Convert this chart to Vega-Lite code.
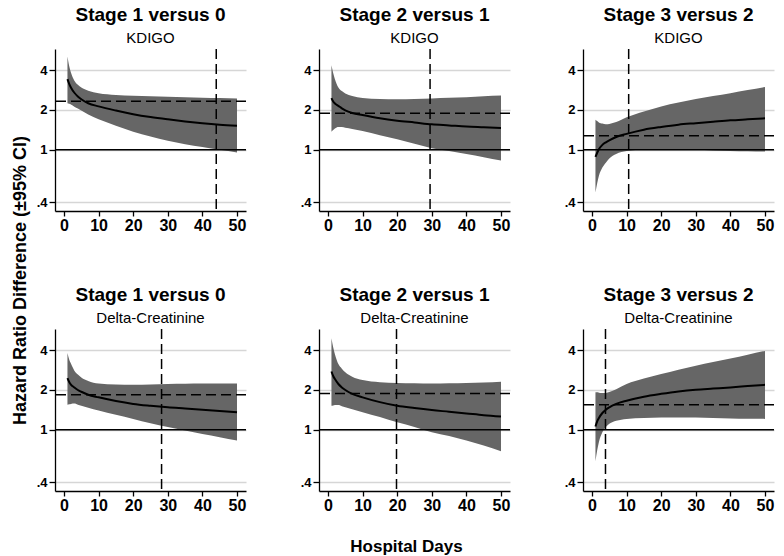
{
  "$schema": "https://vega.github.io/schema/vega-lite/v6.json",
  "background": "white",
  "padding": {"left": 10, "top": 6, "right": 5, "bottom": 2},
  "datasets": {
    "curves": [
      {"p":"K1","d":1,"est":3.42,"lo":2.25,"hi":5.07},
      {"p":"K1","d":1.5,"est":3.15,"lo":2.23,"hi":4.30},
      {"p":"K1","d":2,"est":2.96,"lo":2.20,"hi":3.84},
      {"p":"K1","d":3,"est":2.70,"lo":2.12,"hi":3.33},
      {"p":"K1","d":4,"est":2.53,"lo":2.05,"hi":3.10},
      {"p":"K1","d":5,"est":2.41,"lo":1.98,"hi":2.96},
      {"p":"K1","d":7,"est":2.25,"lo":1.85,"hi":2.80},
      {"p":"K1","d":10,"est":2.13,"lo":1.70,"hi":2.68},
      {"p":"K1","d":15,"est":1.98,"lo":1.52,"hi":2.60},
      {"p":"K1","d":20,"est":1.86,"lo":1.37,"hi":2.56},
      {"p":"K1","d":25,"est":1.77,"lo":1.26,"hi":2.54},
      {"p":"K1","d":30,"est":1.70,"lo":1.17,"hi":2.52},
      {"p":"K1","d":35,"est":1.64,"lo":1.10,"hi":2.50},
      {"p":"K1","d":40,"est":1.59,"lo":1.05,"hi":2.48},
      {"p":"K1","d":45,"est":1.55,"lo":1.00,"hi":2.46},
      {"p":"K1","d":50,"est":1.52,"lo":0.955,"hi":2.44},
      {"p":"K2","d":1,"est":2.46,"lo":1.37,"hi":4.36},
      {"p":"K2","d":1.5,"est":2.32,"lo":1.41,"hi":3.80},
      {"p":"K2","d":2,"est":2.24,"lo":1.45,"hi":3.42},
      {"p":"K2","d":3,"est":2.15,"lo":1.49,"hi":2.96},
      {"p":"K2","d":4,"est":2.06,"lo":1.49,"hi":2.78},
      {"p":"K2","d":5,"est":1.99,"lo":1.47,"hi":2.67},
      {"p":"K2","d":7,"est":1.90,"lo":1.44,"hi":2.55},
      {"p":"K2","d":10,"est":1.83,"lo":1.39,"hi":2.46},
      {"p":"K2","d":15,"est":1.73,"lo":1.29,"hi":2.42},
      {"p":"K2","d":20,"est":1.66,"lo":1.20,"hi":2.41},
      {"p":"K2","d":25,"est":1.61,"lo":1.11,"hi":2.42},
      {"p":"K2","d":30,"est":1.56,"lo":1.03,"hi":2.44},
      {"p":"K2","d":35,"est":1.53,"lo":0.98,"hi":2.47},
      {"p":"K2","d":40,"est":1.50,"lo":0.93,"hi":2.50},
      {"p":"K2","d":45,"est":1.48,"lo":0.88,"hi":2.54},
      {"p":"K2","d":50,"est":1.46,"lo":0.83,"hi":2.57},
      {"p":"K3","d":1,"est":0.885,"lo":0.476,"hi":1.69},
      {"p":"K3","d":1.5,"est":0.95,"lo":0.56,"hi":1.65},
      {"p":"K3","d":2,"est":1.01,"lo":0.636,"hi":1.61},
      {"p":"K3","d":3,"est":1.09,"lo":0.735,"hi":1.58},
      {"p":"K3","d":4,"est":1.14,"lo":0.80,"hi":1.56},
      {"p":"K3","d":5,"est":1.18,"lo":0.86,"hi":1.57},
      {"p":"K3","d":7,"est":1.25,"lo":0.93,"hi":1.62},
      {"p":"K3","d":10,"est":1.32,"lo":0.98,"hi":1.76},
      {"p":"K3","d":15,"est":1.42,"lo":1.00,"hi":1.95},
      {"p":"K3","d":20,"est":1.49,"lo":1.00,"hi":2.13},
      {"p":"K3","d":25,"est":1.55,"lo":1.00,"hi":2.28},
      {"p":"K3","d":30,"est":1.59,"lo":1.00,"hi":2.42},
      {"p":"K3","d":35,"est":1.63,"lo":0.99,"hi":2.55},
      {"p":"K3","d":40,"est":1.67,"lo":0.98,"hi":2.68},
      {"p":"K3","d":45,"est":1.70,"lo":0.975,"hi":2.83},
      {"p":"K3","d":50,"est":1.73,"lo":0.97,"hi":2.98},
      {"p":"D1","d":1,"est":2.46,"lo":1.55,"hi":3.80},
      {"p":"D1","d":1.5,"est":2.30,"lo":1.56,"hi":3.40},
      {"p":"D1","d":2,"est":2.20,"lo":1.57,"hi":3.17},
      {"p":"D1","d":3,"est":2.09,"lo":1.58,"hi":2.80},
      {"p":"D1","d":4,"est":2.00,"lo":1.55,"hi":2.62},
      {"p":"D1","d":5,"est":1.94,"lo":1.52,"hi":2.49},
      {"p":"D1","d":7,"est":1.84,"lo":1.47,"hi":2.34},
      {"p":"D1","d":10,"est":1.76,"lo":1.40,"hi":2.24},
      {"p":"D1","d":15,"est":1.65,"lo":1.30,"hi":2.20},
      {"p":"D1","d":20,"est":1.57,"lo":1.21,"hi":2.19},
      {"p":"D1","d":25,"est":1.52,"lo":1.12,"hi":2.20},
      {"p":"D1","d":30,"est":1.48,"lo":1.05,"hi":2.22},
      {"p":"D1","d":35,"est":1.45,"lo":0.99,"hi":2.23},
      {"p":"D1","d":40,"est":1.42,"lo":0.93,"hi":2.24},
      {"p":"D1","d":45,"est":1.39,"lo":0.88,"hi":2.24},
      {"p":"D1","d":50,"est":1.36,"lo":0.83,"hi":2.24},
      {"p":"D2","d":1,"est":2.76,"lo":1.52,"hi":4.92},
      {"p":"D2","d":1.5,"est":2.55,"lo":1.53,"hi":4.20},
      {"p":"D2","d":2,"est":2.42,"lo":1.54,"hi":3.73},
      {"p":"D2","d":3,"est":2.22,"lo":1.54,"hi":3.14},
      {"p":"D2","d":4,"est":2.09,"lo":1.51,"hi":2.90},
      {"p":"D2","d":5,"est":2.00,"lo":1.48,"hi":2.72},
      {"p":"D2","d":7,"est":1.87,"lo":1.43,"hi":2.52},
      {"p":"D2","d":10,"est":1.76,"lo":1.36,"hi":2.38},
      {"p":"D2","d":15,"est":1.62,"lo":1.25,"hi":2.29},
      {"p":"D2","d":20,"est":1.52,"lo":1.14,"hi":2.26},
      {"p":"D2","d":25,"est":1.46,"lo":1.05,"hi":2.25},
      {"p":"D2","d":30,"est":1.41,"lo":0.96,"hi":2.24},
      {"p":"D2","d":35,"est":1.37,"lo":0.90,"hi":2.25},
      {"p":"D2","d":40,"est":1.33,"lo":0.83,"hi":2.26},
      {"p":"D2","d":45,"est":1.29,"lo":0.76,"hi":2.28},
      {"p":"D2","d":50,"est":1.26,"lo":0.69,"hi":2.31},
      {"p":"D3","d":1,"est":1.06,"lo":0.58,"hi":1.92},
      {"p":"D3","d":1.5,"est":1.16,"lo":0.70,"hi":1.92},
      {"p":"D3","d":2,"est":1.23,"lo":0.81,"hi":1.91},
      {"p":"D3","d":3,"est":1.34,"lo":0.96,"hi":1.90},
      {"p":"D3","d":4,"est":1.42,"lo":1.05,"hi":1.90},
      {"p":"D3","d":5,"est":1.48,"lo":1.11,"hi":1.93},
      {"p":"D3","d":7,"est":1.57,"lo":1.17,"hi":2.03},
      {"p":"D3","d":10,"est":1.66,"lo":1.21,"hi":2.22},
      {"p":"D3","d":15,"est":1.78,"lo":1.23,"hi":2.44},
      {"p":"D3","d":20,"est":1.87,"lo":1.24,"hi":2.64},
      {"p":"D3","d":25,"est":1.95,"lo":1.24,"hi":2.85},
      {"p":"D3","d":30,"est":2.01,"lo":1.24,"hi":3.05},
      {"p":"D3","d":35,"est":2.05,"lo":1.23,"hi":3.25},
      {"p":"D3","d":40,"est":2.09,"lo":1.22,"hi":3.46},
      {"p":"D3","d":45,"est":2.14,"lo":1.215,"hi":3.70},
      {"p":"D3","d":50,"est":2.19,"lo":1.21,"hi":3.95}
    ],
    "refs": [
      {"p":"K1","hr":2.33,"day":44,"one":1},
      {"p":"K2","hr":1.89,"day":29.5,"one":1},
      {"p":"K3","hr":1.28,"day":10.6,"one":1},
      {"p":"D1","hr":1.84,"day":28.2,"one":1},
      {"p":"D2","hr":1.88,"day":19.8,"one":1},
      {"p":"D3","hr":1.55,"day":3.9,"one":1}
    ]
  },
  "columns": 3,
  "spacing": {"row": 118, "column": 73},
  "bounds": "flush",
  "concat": [
    {
      "width": 191, "height": 162,
      "title": {"text": "Stage 1 versus 0", "subtitle": "KDIGO"},
      "layer": [
        {"data": {"name": "curves"}, "transform": [{"filter": "datum.p == 'K1'"}],
         "mark": {"type": "area", "color": "#666666", "interpolate": "monotone"},
         "encoding": {
           "x": {"field": "d", "type": "quantitative", "scale": {"domain": [-2.6, 52.6], "nice": false, "zero": false}, "axis": {"values": [0,10,20,30,40,50], "labelOverlap": false, "title": null}},
           "y": {"field": "lo", "type": "quantitative", "scale": {"type": "log", "domain": [0.345, 5.78], "nice": false}, "axis": {"values": [0.4,1,2,4], "labelExpr": "datum.value < 1 ? '.4' : datum.value + ''", "title": "Hazard Ratio Difference (±95% CI)", "titleX": -30, "titleY": 231, "titleAngle": 270, "titleAlign": "center", "titleBaseline": "alphabetic", "titleFontSize": 18}},
           "y2": {"field": "hi"}}},
        {"data": {"name": "curves"}, "transform": [{"filter": "datum.p == 'K1'"}],
         "mark": {"type": "line", "color": "black", "strokeWidth": 2, "interpolate": "monotone"},
         "encoding": {
           "x": {"field": "d", "type": "quantitative", "scale": {"domain": [-2.6, 52.6], "nice": false, "zero": false}, "axis": {"values": [0,10,20,30,40,50], "labelOverlap": false}},
           "y": {"field": "est", "type": "quantitative", "scale": {"type": "log", "domain": [0.345, 5.78], "nice": false}}}},
        {"data": {"name": "refs"}, "transform": [{"filter": "datum.p == 'K1'"}],
         "mark": {"type": "rule", "color": "black", "strokeWidth": 1.5},
         "encoding": {"y": {"field": "one", "type": "quantitative", "scale": {"type": "log", "domain": [0.345, 5.78], "nice": false}}}},
        {"data": {"name": "refs"}, "transform": [{"filter": "datum.p == 'K1'"}],
         "mark": {"type": "rule", "color": "black", "strokeWidth": 1.5, "strokeDash": [10, 5]},
         "encoding": {"y": {"field": "hr", "type": "quantitative", "scale": {"type": "log", "domain": [0.345, 5.78], "nice": false}}}},
        {"data": {"name": "refs"}, "transform": [{"filter": "datum.p == 'K1'"}],
         "mark": {"type": "rule", "color": "black", "strokeWidth": 1.5, "strokeDash": [10, 5]},
         "encoding": {"x": {"field": "day", "type": "quantitative", "scale": {"domain": [-2.6, 52.6], "nice": false, "zero": false}, "axis": {"values": [0,10,20,30,40,50], "labelOverlap": false}}}}
      ]
    },
    {
      "width": 191, "height": 162,
      "title": {"text": "Stage 2 versus 1", "subtitle": "KDIGO"},
      "layer": [
        {"data": {"name": "curves"}, "transform": [{"filter": "datum.p == 'K2'"}],
         "mark": {"type": "area", "color": "#666666", "interpolate": "monotone"},
         "encoding": {
           "x": {"field": "d", "type": "quantitative", "scale": {"domain": [-2.6, 52.6], "nice": false, "zero": false}, "axis": {"values": [0,10,20,30,40,50], "labelOverlap": false, "title": null}},
           "y": {"field": "lo", "type": "quantitative", "scale": {"type": "log", "domain": [0.345, 5.78], "nice": false}, "axis": {"values": [0.4,1,2,4], "labelExpr": "datum.value < 1 ? '.4' : datum.value + ''", "title": null}},
           "y2": {"field": "hi"}}},
        {"data": {"name": "curves"}, "transform": [{"filter": "datum.p == 'K2'"}],
         "mark": {"type": "line", "color": "black", "strokeWidth": 2, "interpolate": "monotone"},
         "encoding": {
           "x": {"field": "d", "type": "quantitative", "scale": {"domain": [-2.6, 52.6], "nice": false, "zero": false}, "axis": {"values": [0,10,20,30,40,50], "labelOverlap": false}},
           "y": {"field": "est", "type": "quantitative", "scale": {"type": "log", "domain": [0.345, 5.78], "nice": false}}}},
        {"data": {"name": "refs"}, "transform": [{"filter": "datum.p == 'K2'"}],
         "mark": {"type": "rule", "color": "black", "strokeWidth": 1.5},
         "encoding": {"y": {"field": "one", "type": "quantitative", "scale": {"type": "log", "domain": [0.345, 5.78], "nice": false}}}},
        {"data": {"name": "refs"}, "transform": [{"filter": "datum.p == 'K2'"}],
         "mark": {"type": "rule", "color": "black", "strokeWidth": 1.5, "strokeDash": [10, 5]},
         "encoding": {"y": {"field": "hr", "type": "quantitative", "scale": {"type": "log", "domain": [0.345, 5.78], "nice": false}}}},
        {"data": {"name": "refs"}, "transform": [{"filter": "datum.p == 'K2'"}],
         "mark": {"type": "rule", "color": "black", "strokeWidth": 1.5, "strokeDash": [10, 5]},
         "encoding": {"x": {"field": "day", "type": "quantitative", "scale": {"domain": [-2.6, 52.6], "nice": false, "zero": false}, "axis": {"values": [0,10,20,30,40,50], "labelOverlap": false}}}}
      ]
    },
    {
      "width": 191, "height": 162,
      "title": {"text": "Stage 3 versus 2", "subtitle": "KDIGO"},
      "layer": [
        {"data": {"name": "curves"}, "transform": [{"filter": "datum.p == 'K3'"}],
         "mark": {"type": "area", "color": "#666666", "interpolate": "monotone"},
         "encoding": {
           "x": {"field": "d", "type": "quantitative", "scale": {"domain": [-2.6, 52.6], "nice": false, "zero": false}, "axis": {"values": [0,10,20,30,40,50], "labelOverlap": false, "title": null}},
           "y": {"field": "lo", "type": "quantitative", "scale": {"type": "log", "domain": [0.345, 5.78], "nice": false}, "axis": {"values": [0.4,1,2,4], "labelExpr": "datum.value < 1 ? '.4' : datum.value + ''", "title": null}},
           "y2": {"field": "hi"}}},
        {"data": {"name": "curves"}, "transform": [{"filter": "datum.p == 'K3'"}],
         "mark": {"type": "line", "color": "black", "strokeWidth": 2, "interpolate": "monotone"},
         "encoding": {
           "x": {"field": "d", "type": "quantitative", "scale": {"domain": [-2.6, 52.6], "nice": false, "zero": false}, "axis": {"values": [0,10,20,30,40,50], "labelOverlap": false}},
           "y": {"field": "est", "type": "quantitative", "scale": {"type": "log", "domain": [0.345, 5.78], "nice": false}}}},
        {"data": {"name": "refs"}, "transform": [{"filter": "datum.p == 'K3'"}],
         "mark": {"type": "rule", "color": "black", "strokeWidth": 1.5},
         "encoding": {"y": {"field": "one", "type": "quantitative", "scale": {"type": "log", "domain": [0.345, 5.78], "nice": false}}}},
        {"data": {"name": "refs"}, "transform": [{"filter": "datum.p == 'K3'"}],
         "mark": {"type": "rule", "color": "black", "strokeWidth": 1.5, "strokeDash": [10, 5]},
         "encoding": {"y": {"field": "hr", "type": "quantitative", "scale": {"type": "log", "domain": [0.345, 5.78], "nice": false}}}},
        {"data": {"name": "refs"}, "transform": [{"filter": "datum.p == 'K3'"}],
         "mark": {"type": "rule", "color": "black", "strokeWidth": 1.5, "strokeDash": [10, 5]},
         "encoding": {"x": {"field": "day", "type": "quantitative", "scale": {"domain": [-2.6, 52.6], "nice": false, "zero": false}, "axis": {"values": [0,10,20,30,40,50], "labelOverlap": false}}}}
      ]
    },
    {
      "width": 191, "height": 162,
      "title": {"text": "Stage 1 versus 0", "subtitle": "Delta-Creatinine"},
      "layer": [
        {"data": {"name": "curves"}, "transform": [{"filter": "datum.p == 'D1'"}],
         "mark": {"type": "area", "color": "#666666", "interpolate": "monotone"},
         "encoding": {
           "x": {"field": "d", "type": "quantitative", "scale": {"domain": [-2.6, 52.6], "nice": false, "zero": false}, "axis": {"values": [0,10,20,30,40,50], "labelOverlap": false, "title": null}},
           "y": {"field": "lo", "type": "quantitative", "scale": {"type": "log", "domain": [0.345, 5.78], "nice": false}, "axis": {"values": [0.4,1,2,4], "labelExpr": "datum.value < 1 ? '.4' : datum.value + ''", "title": null}},
           "y2": {"field": "hi"}}},
        {"data": {"name": "curves"}, "transform": [{"filter": "datum.p == 'D1'"}],
         "mark": {"type": "line", "color": "black", "strokeWidth": 2, "interpolate": "monotone"},
         "encoding": {
           "x": {"field": "d", "type": "quantitative", "scale": {"domain": [-2.6, 52.6], "nice": false, "zero": false}, "axis": {"values": [0,10,20,30,40,50], "labelOverlap": false}},
           "y": {"field": "est", "type": "quantitative", "scale": {"type": "log", "domain": [0.345, 5.78], "nice": false}}}},
        {"data": {"name": "refs"}, "transform": [{"filter": "datum.p == 'D1'"}],
         "mark": {"type": "rule", "color": "black", "strokeWidth": 1.5},
         "encoding": {"y": {"field": "one", "type": "quantitative", "scale": {"type": "log", "domain": [0.345, 5.78], "nice": false}}}},
        {"data": {"name": "refs"}, "transform": [{"filter": "datum.p == 'D1'"}],
         "mark": {"type": "rule", "color": "black", "strokeWidth": 1.5, "strokeDash": [10, 5]},
         "encoding": {"y": {"field": "hr", "type": "quantitative", "scale": {"type": "log", "domain": [0.345, 5.78], "nice": false}}}},
        {"data": {"name": "refs"}, "transform": [{"filter": "datum.p == 'D1'"}],
         "mark": {"type": "rule", "color": "black", "strokeWidth": 1.5, "strokeDash": [10, 5]},
         "encoding": {"x": {"field": "day", "type": "quantitative", "scale": {"domain": [-2.6, 52.6], "nice": false, "zero": false}, "axis": {"values": [0,10,20,30,40,50], "labelOverlap": false}}}}
      ]
    },
    {
      "width": 191, "height": 162,
      "title": {"text": "Stage 2 versus 1", "subtitle": "Delta-Creatinine"},
      "layer": [
        {"data": {"name": "curves"}, "transform": [{"filter": "datum.p == 'D2'"}],
         "mark": {"type": "area", "color": "#666666", "interpolate": "monotone"},
         "encoding": {
           "x": {"field": "d", "type": "quantitative", "scale": {"domain": [-2.6, 52.6], "nice": false, "zero": false}, "axis": {"values": [0,10,20,30,40,50], "labelOverlap": false, "title": "Hospital Days", "titleX": 87, "titleY": 60, "titleAlign": "center", "titleBaseline": "alphabetic", "titleFontSize": 17}},
           "y": {"field": "lo", "type": "quantitative", "scale": {"type": "log", "domain": [0.345, 5.78], "nice": false}, "axis": {"values": [0.4,1,2,4], "labelExpr": "datum.value < 1 ? '.4' : datum.value + ''", "title": null}},
           "y2": {"field": "hi"}}},
        {"data": {"name": "curves"}, "transform": [{"filter": "datum.p == 'D2'"}],
         "mark": {"type": "line", "color": "black", "strokeWidth": 2, "interpolate": "monotone"},
         "encoding": {
           "x": {"field": "d", "type": "quantitative", "scale": {"domain": [-2.6, 52.6], "nice": false, "zero": false}, "axis": {"values": [0,10,20,30,40,50], "labelOverlap": false}},
           "y": {"field": "est", "type": "quantitative", "scale": {"type": "log", "domain": [0.345, 5.78], "nice": false}}}},
        {"data": {"name": "refs"}, "transform": [{"filter": "datum.p == 'D2'"}],
         "mark": {"type": "rule", "color": "black", "strokeWidth": 1.5},
         "encoding": {"y": {"field": "one", "type": "quantitative", "scale": {"type": "log", "domain": [0.345, 5.78], "nice": false}}}},
        {"data": {"name": "refs"}, "transform": [{"filter": "datum.p == 'D2'"}],
         "mark": {"type": "rule", "color": "black", "strokeWidth": 1.5, "strokeDash": [10, 5]},
         "encoding": {"y": {"field": "hr", "type": "quantitative", "scale": {"type": "log", "domain": [0.345, 5.78], "nice": false}}}},
        {"data": {"name": "refs"}, "transform": [{"filter": "datum.p == 'D2'"}],
         "mark": {"type": "rule", "color": "black", "strokeWidth": 1.5, "strokeDash": [10, 5]},
         "encoding": {"x": {"field": "day", "type": "quantitative", "scale": {"domain": [-2.6, 52.6], "nice": false, "zero": false}, "axis": {"values": [0,10,20,30,40,50], "labelOverlap": false}}}}
      ]
    },
    {
      "width": 191, "height": 162,
      "title": {"text": "Stage 3 versus 2", "subtitle": "Delta-Creatinine"},
      "layer": [
        {"data": {"name": "curves"}, "transform": [{"filter": "datum.p == 'D3'"}],
         "mark": {"type": "area", "color": "#666666", "interpolate": "monotone"},
         "encoding": {
           "x": {"field": "d", "type": "quantitative", "scale": {"domain": [-2.6, 52.6], "nice": false, "zero": false}, "axis": {"values": [0,10,20,30,40,50], "labelOverlap": false, "title": null}},
           "y": {"field": "lo", "type": "quantitative", "scale": {"type": "log", "domain": [0.345, 5.78], "nice": false}, "axis": {"values": [0.4,1,2,4], "labelExpr": "datum.value < 1 ? '.4' : datum.value + ''", "title": null}},
           "y2": {"field": "hi"}}},
        {"data": {"name": "curves"}, "transform": [{"filter": "datum.p == 'D3'"}],
         "mark": {"type": "line", "color": "black", "strokeWidth": 2, "interpolate": "monotone"},
         "encoding": {
           "x": {"field": "d", "type": "quantitative", "scale": {"domain": [-2.6, 52.6], "nice": false, "zero": false}, "axis": {"values": [0,10,20,30,40,50], "labelOverlap": false}},
           "y": {"field": "est", "type": "quantitative", "scale": {"type": "log", "domain": [0.345, 5.78], "nice": false}}}},
        {"data": {"name": "refs"}, "transform": [{"filter": "datum.p == 'D3'"}],
         "mark": {"type": "rule", "color": "black", "strokeWidth": 1.5},
         "encoding": {"y": {"field": "one", "type": "quantitative", "scale": {"type": "log", "domain": [0.345, 5.78], "nice": false}}}},
        {"data": {"name": "refs"}, "transform": [{"filter": "datum.p == 'D3'"}],
         "mark": {"type": "rule", "color": "black", "strokeWidth": 1.5, "strokeDash": [10, 5]},
         "encoding": {"y": {"field": "hr", "type": "quantitative", "scale": {"type": "log", "domain": [0.345, 5.78], "nice": false}}}},
        {"data": {"name": "refs"}, "transform": [{"filter": "datum.p == 'D3'"}],
         "mark": {"type": "rule", "color": "black", "strokeWidth": 1.5, "strokeDash": [10, 5]},
         "encoding": {"x": {"field": "day", "type": "quantitative", "scale": {"domain": [-2.6, 52.6], "nice": false, "zero": false}, "axis": {"values": [0,10,20,30,40,50], "labelOverlap": false}}}}
      ]
    }
  ],
  "config": {
    "view": {"stroke": null},
    "font": "Liberation Sans",
    "title": {"font": "Liberation Sans", "fontSize": 19, "fontWeight": "bold", "color": "black", "subtitleFont": "Liberation Sans", "subtitleFontSize": 15, "subtitleFontWeight": "normal", "subtitleColor": "black", "subtitlePadding": 6, "offset": 2, "anchor": "middle"},
    "axis": {"domainColor": "black", "domainWidth": 1.3, "tickColor": "black", "tickWidth": 1.3, "labelColor": "black", "labelFont": "Liberation Sans", "labelFontWeight": "bold", "titleFont": "Liberation Sans", "titleFontWeight": "bold", "titleColor": "black", "labelOverlap": false, "labelFlush": false},
    "axisX": {"grid": false, "tickSize": 5, "labelPadding": 1, "labelFontSize": 16, "labelOverlap": false},
    "axisY": {"grid": true, "gridColor": "#d6d6d6", "gridWidth": 1.5, "tickSize": 6, "labelPadding": 2, "labelFontSize": 13}
  }
}
